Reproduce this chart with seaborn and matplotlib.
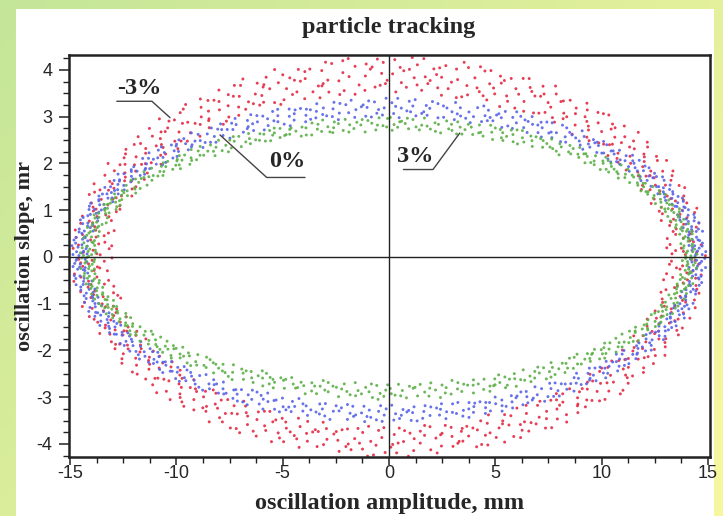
import numpy as np
import pandas as pd
import matplotlib
matplotlib.use("Agg")
import matplotlib.pyplot as plt
from matplotlib.ticker import MultipleLocator
from matplotlib.patches import Rectangle
import seaborn as sns

# ---- data ----
series = ["-3%", "0%", "3%"]
colors = ["#e42a42", "#5864e8", "#5cb048"]
n_points = [760, 740, 680]
# horizontal semi-axes of each ring (outer / inner), mm
x_outer = [14.95, 14.95, 14.55]
x_inner = [13.00, 14.15, 13.80]
# vertical semi-axes, upper half (outer / inner), mrad
y_top_outer = [4.30, 3.40, 3.00]
y_top_inner = [3.50, 2.97, 2.68]
# vertical semi-axes, lower half (outer / inner), mrad
y_bot_outer = [4.28, 3.55, 3.05]
y_bot_inner = [3.62, 3.17, 2.70]

x_ticks = [-15, -10, -5, 0, 5, 10, 15]
y_ticks = [-4, -3, -2, -1, 0, 1, 2, 3, 4]

# annotation labels: text position, underline span, leader end
ann_text = ["-3%", "0%", "3%"]
ann_xy = [(-11.75, 3.60), (-4.78, 2.04), (1.25, 2.15)]
ann_line_x = [(-12.80, -11.15, -10.30), (-7.95, -5.75, -3.95), (0.68, 2.07, 3.33)]
ann_line_y = [(3.33, 3.33, 2.98), (2.61, 1.70, 1.70), (1.87, 1.87, 2.65)]


# ---- build the tracking points (deterministic Halton phases / amplitudes) ----
def radical_inverse(k, base):
    out = np.zeros(len(k))
    f = 1.0 / base
    k = k.copy()
    while np.any(k > 0):
        out += f * (k % base)
        k //= base
        f /= base
    return out


starts = [37, 1201, 2411]
rows = []
for i, name in enumerate(series):
    k = np.arange(starts[i], starts[i] + n_points[i])
    phase = 2 * np.pi * radical_inverse(k, 2)
    frac = radical_inverse(k, 3)
    ax_ = x_inner[i] + frac * (x_outer[i] - x_inner[i])
    s = np.sin(phase)
    by = np.where(s >= 0,
                  y_top_inner[i] + frac * (y_top_outer[i] - y_top_inner[i]),
                  y_bot_inner[i] + frac * (y_bot_outer[i] - y_bot_inner[i]))
    rows.append(pd.DataFrame({"x": ax_ * np.cos(phase), "y": by * s, "series": name}))
df = pd.concat(rows, ignore_index=True)

# ---- figure ----
sns.set_style("white")
plt.rcParams["font.family"] = ["Liberation Sans", "DejaVu Sans"]

W, H = 723, 516
fig = plt.figure(figsize=(W / 100, H / 100), dpi=100)

# gradient frame
bg = fig.add_axes([0, 0, 1, 1], zorder=-10)
bg.axis("off")
gx, gy = np.meshgrid(np.linspace(0, 1, 200), np.linspace(0, 1, 150))
t = np.clip(0.65 * gx + 0.45 * gy, 0, 1)[..., None]
c0 = np.array([196, 230, 152]) / 255
c1 = np.array([246, 246, 158]) / 255
bg.imshow(c0 * (1 - t) + c1 * t, aspect="auto", extent=[0, 1, 0, 1], origin="upper")
bg.set_xlim(0, 1)
bg.set_ylim(0, 1)
bg.add_patch(Rectangle((16 / W, 0), (714 - 16) / W, 1 - 9 / H,
                       facecolor="white", edgecolor="none", transform=bg.transAxes))

ax = fig.add_axes([69 / W, 1 - 457 / H, (710 - 69) / W, (457 - 55) / H])
ax.set_facecolor("white")

sns.scatterplot(data=df, x="x", y="y", hue="series", hue_order=series,
                palette=dict(zip(series, colors)), marker="o", s=4.5,
                linewidth=0, alpha=0.9, legend=False, ax=ax)

ax.axhline(0, color="#222222", lw=1.0, zorder=3)
ax.axvline(0, color="#222222", lw=1.0, zorder=3)

ax.set_xlim(-15.05, 15.1)
ax.set_ylim(-4.28, 4.32)
ax.set_xticks(x_ticks)
ax.set_yticks(y_ticks)
ax.set_xticklabels([str(v) for v in x_ticks])
ax.set_yticklabels([str(v) for v in y_ticks])
ax.xaxis.set_minor_locator(MultipleLocator(1.25))
ax.yaxis.set_minor_locator(MultipleLocator(0.25))
ax.tick_params(which="major", direction="out", length=7, width=1.1,
               labelsize=13, color="#222222", bottom=True, left=True)
ax.tick_params(axis="x", which="major", length=6, pad=0)
ax.tick_params(axis="y", which="major", pad=5)
ax.tick_params(which="minor", direction="out", length=4, width=1.0,
               color="#222222", bottom=True, left=True)
for sp in ax.spines.values():
    sp.set_color("#222222")
    sp.set_linewidth(1.8)

serif = ["Liberation Serif", "DejaVu Serif"]
ax.set_xlabel("oscillation amplitude, mm", fontfamily=serif, fontweight="bold",
              fontsize=17.5, labelpad=8)
ax.set_ylabel("oscillation slope, mr", fontfamily=serif, fontweight="bold",
              fontsize=16, labelpad=1)
fig.text(389 / W, 1 - 27 / H, "particle tracking", fontfamily=serif,
         fontweight="bold", fontsize=17.5, ha="center", va="center")

for txt, (tx, ty), lx, ly in zip(ann_text, ann_xy, ann_line_x, ann_line_y):
    ax.text(tx, ty, txt, fontfamily=serif, fontweight="bold", fontsize=17.5,
            ha="center", va="center", zorder=5)
    ax.plot(lx, ly, color="#444444", lw=1.0, zorder=4)

fig.savefig("out.png", dpi=100)
